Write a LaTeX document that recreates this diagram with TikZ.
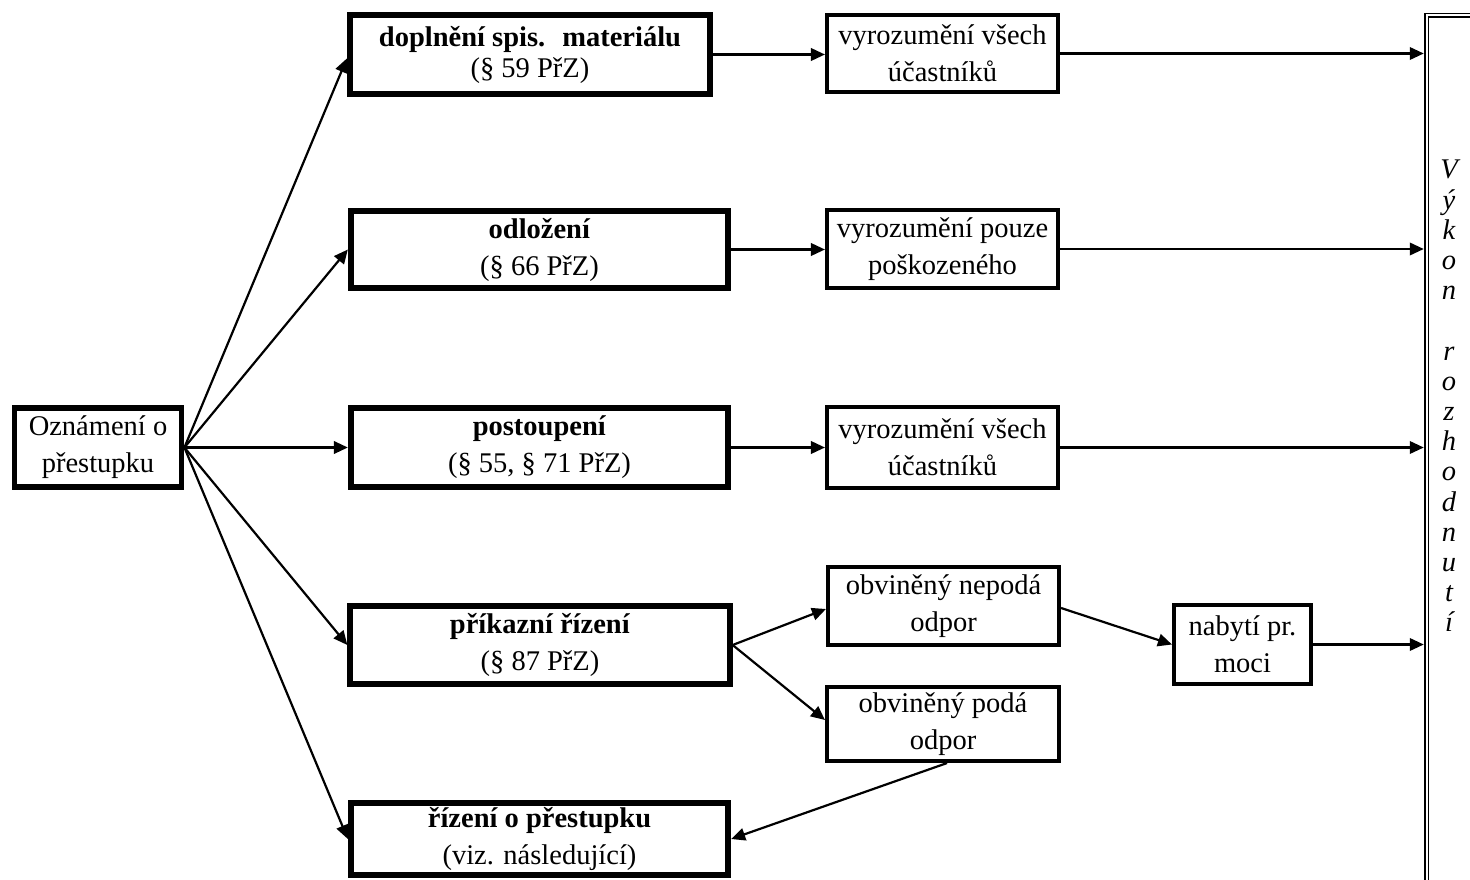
\documentclass[tikz,border=0pt]{standalone}
\usepackage{fontspec}
\setmainfont{Liberation Serif}
\usetikzlibrary{arrows.meta,calc}
\newcommand\fsz{\fontsize{28.5}{37}\selectfont}
\begin{document}
\begin{tikzpicture}[x=1pt,y=-1pt,
 bbox/.style={draw, line width=5.8pt, align=center, inner sep=0pt, font=\fsz},
 nbox/.style={draw, line width=3.6pt, align=center, inner sep=0pt, font=\fsz},
 arr/.style={line width=2.2pt, -{Triangle[length=14pt,width=12.5pt]}}]
\useasboundingbox (0,0) rectangle (1470,880);
\clip (0,0) rectangle (1470,880);

\node[bbox, minimum width=167pt, minimum height=79pt] (ozn) at (98,447.5) {Oznámení o\\přestupku};

\node[bbox, minimum width=360.5pt, minimum height=79.5pt, font=\fontsize{28.5}{31}\selectfont] (dop) at (530,54.5) {\textbf{doplnění spis.\hspace{0.6em}materiálu}\\(§ 59 PřZ)};
\node[bbox, minimum width=377.5pt, minimum height=77.5pt] (odl) at (539.5,249.5) {\textbf{odložení}\\(§ 66 PřZ)};
\node[bbox, minimum width=377.5pt, minimum height=79.5pt] (pos) at (539.5,447.5) {\textbf{postoupení}\\(§ 55, § 71 PřZ)};
\node[bbox, minimum width=379.5pt, minimum height=78.5pt] (pri) at (540,645) {\textbf{příkazní řízení}\\(§ 87 PřZ)};
\node[bbox, minimum width=377.5pt, minimum height=72.5pt] (riz) at (539.5,839) {\textbf{řízení o přestupku}\\(viz. následující)};

\node[nbox, minimum width=231.5pt, minimum height=77.5pt] (vy1) at (942.5,53.5) {vyrozumění všech\\účastníků};
\node[nbox, minimum width=231.5pt, minimum height=78.5pt] (vy2) at (942.5,249) {vyrozumění pouze\\poškozeného};
\node[nbox, minimum width=231.5pt, minimum height=81.5pt] (vy3) at (942.5,447.5) {vyrozumění všech\\účastníků};
\node[nbox, minimum width=231.5pt, minimum height=78.5pt] (nep) at (943.5,606) {obviněný nepodá\\odpor};
\node[nbox, minimum width=232.5pt, minimum height=74.5pt] (pod) at (943,724) {obviněný podá\\odpor};
\node[nbox, minimum width=137.5pt, minimum height=79.5pt] (nab) at (1242.5,644.5) {nabytí pr.\\moci};

\node[draw, double, line width=1.5pt, double distance=2pt, outer sep=2.75pt, inner sep=0pt,
      minimum width=93.5pt, minimum height=884.5pt] (exe) at (1473.25,457.75) {};
\node[font=\itshape\fontsize{28.5}{30.2}\selectfont, align=center, inner sep=0pt, anchor=north] (vt) at (1449,160)
  {V\\ý\\k\\o\\n\\[30.2pt]r\\o\\z\\h\\o\\d\\n\\u\\t\\í};

\draw[arr] (ozn.east) -- ([yshift=-4pt]dop.west);
\draw[arr] (ozn.east) -- (odl.west);
\draw[arr] (ozn.east) -- (pos.west);
\draw[arr] (ozn.east) -- (pri.west);
\draw[arr] (ozn.east) -- (riz.west);

\draw[arr] (dop.east) -- (dop.east -| vy1.west);
\draw[arr] (odl.east) -- (odl.east -| vy2.west);
\draw[arr] (pos.east) -- (pos.east -| vy3.west);

\draw[arr] (vy1.east) -- (vy1.east -| exe.west);
\draw[arr] (vy2.east) -- (vy2.east -| exe.west);
\draw[arr] (vy3.east) -- (vy3.east -| exe.west);

\draw[arr] (pri.east) -- ([yshift=-3pt]nep.west);
\draw[arr] (pri.east) -- ([yshift=4pt]pod.west);
\draw[arr] ([yshift=-2pt]nep.east) -- (nab.west);
\draw[arr] (nab.east) -- (nab.east -| exe.west);
\draw[arr] ([xshift=4pt]pod.south) -- (riz.east);
\end{tikzpicture}
\end{document}
